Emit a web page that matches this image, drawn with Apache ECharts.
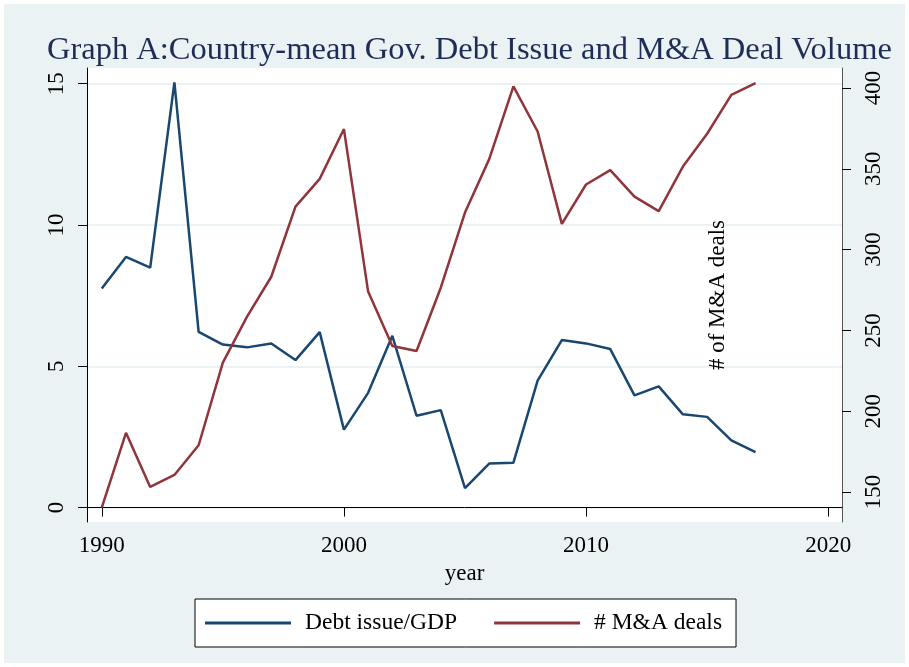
<!DOCTYPE html>
<html>
<head>
<meta charset="utf-8">
<script src="https://cdn.jsdelivr.net/npm/echarts@6/dist/echarts.min.js"></script>
<style>
  html, body { margin: 0; padding: 0; background: #fff; }
  #chart { width: 909px; height: 667px; }
  #edge { position: absolute; left: 0; top: 0; width: 909px; height: 667px;
          box-sizing: border-box; border: 4px solid #fff; pointer-events: none; }
</style>
</head>
<body>
<div id="chart"></div>
<div id="edge"></div>
<script>
// years on x axis
const years = [1990, 1991, 1992, 1993, 1994, 1995, 1996, 1997, 1998, 1999,
  2000, 2001, 2002, 2003, 2004, 2005, 2006, 2007, 2008, 2009,
  2010, 2011, 2012, 2013, 2014, 2015, 2016, 2017];
// Debt issue / GDP (left axis)
const debtIssue = [7.75, 8.87, 8.49, 15.05, 6.22, 5.77, 5.67, 5.81, 5.22, 6.21,
  2.76, 4.06, 6.08, 3.25, 3.45, 0.69, 1.56, 1.59, 4.49, 5.93,
  5.81, 5.61, 3.97, 4.29, 3.30, 3.21, 2.38, 1.96];
// # of M&A deals (right axis)
const mnaDeals = [140.3, 186.6, 153.1, 160.5, 178.9, 230.0, 258.5, 283.2, 326.6, 343.8,
  374.6, 274.0, 240.3, 237.2, 276.4, 322.9, 356.0, 401.0, 373.1, 315.9,
  340.3, 349.2, 332.8, 323.8, 351.4, 371.7, 395.8, 403.1];

const xTicks = [1990, 2000, 2010, 2020];
const leftTicks = [0, 5, 10, 15];
const rightTicks = [150, 200, 250, 300, 350, 400];

const font = "'Liberation Serif', 'DejaVu Serif', serif";
const navy = "#1a476f";
const maroon = "#90353b";

const myChart = echarts.init(document.getElementById("chart"));

let options = {
  backgroundColor: "#eaf2f3",
  animation: false,
  title: {
    text: "Graph A:Country-mean Gov. Debt Issue and M&A Deal Volume",
    left: 42,
    top: 29,
    textStyle: { fontFamily: font, fontSize: 32.5, fontWeight: "normal", color: "#1f2d56" },
  },
  legend: {
    left: 195,
    top: 599,
    padding: [12, 14, 12, 10],
    backgroundColor: "#fff",
    borderColor: "#000",
    borderWidth: 1,
    itemWidth: 86,
    itemHeight: 3,
    itemGap: 37,
    icon: "rect",
    textStyle: { fontFamily: font, fontSize: 23.5, color: "#000", padding: [0, 0, 0, 9] },
    data: ["Debt issue/GDP", "# M&A deals"],
  },
  grid: { left: 87, right: 67, top: 68, bottom: 145, backgroundColor: "#fff", show: true, borderWidth: 0 },
  xAxis: {
    type: "value",
    min: 1989.39,
    max: 2020.57,
    name: "year",
    nameLocation: "middle",
    nameGap: 40,
    nameTextStyle: { fontFamily: font, fontSize: 23, color: "#000" },
    axisLine: { lineStyle: { color: "#000", width: 1 } },
    axisTick: { customValues: xTicks, length: 9, lineStyle: { color: "#000" } },
    axisLabel: {
      customValues: xTicks,
      formatter: (v) => String(v),
      fontFamily: font, fontSize: 23, color: "#000", margin: 12,
    },
    splitLine: { show: false },
  },
  yAxis: [
    {
      type: "value",
      position: "left",
      min: -0.51,
      max: 15.556,
      axisLine: { show: true, lineStyle: { color: "#000", width: 1 } },
      axisTick: { show: true, customValues: leftTicks, length: 9, lineStyle: { color: "#000" } },
      axisLabel: { customValues: leftTicks, rotate: 90, fontFamily: font, fontSize: 23, color: "#000", margin: 19 },
      splitLine: { show: true, lineStyle: { color: "#eaf2f3", width: 2 } },
    },
    {
      type: "value",
      position: "right",
      min: 131.4,
      max: 412.4,
      name: "# of M&A deals",
      nameLocation: "middle",
      nameRotate: 90,
      nameGap: -136,
      nameTextStyle: { fontFamily: font, fontSize: 23, color: "#000" },
      axisLine: { show: true, lineStyle: { color: "#555", width: 1 } },
      axisTick: { show: true, customValues: rightTicks, length: 9, lineStyle: { color: "#000" } },
      axisLabel: { customValues: rightTicks, rotate: 90, fontFamily: font, fontSize: 23, color: "#000", margin: 20 },
      splitLine: { show: false },
    },
  ],
  series: [
    {
      name: "Debt issue/GDP",
      type: "line",
      yAxisIndex: 0,
      showSymbol: false,
      color: navy,
      lineStyle: { width: 2.5, color: navy },
      data: years.map((y, i) => [y, debtIssue[i]]),
    },
    {
      name: "# M&A deals",
      type: "line",
      yAxisIndex: 1,
      showSymbol: false,
      color: maroon,
      lineStyle: { width: 2.5, color: maroon },
      data: years.map((y, i) => [y, mnaDeals[i]]),
    },
  ],
};

myChart.setOption(options);
</script>
</body>
</html>
